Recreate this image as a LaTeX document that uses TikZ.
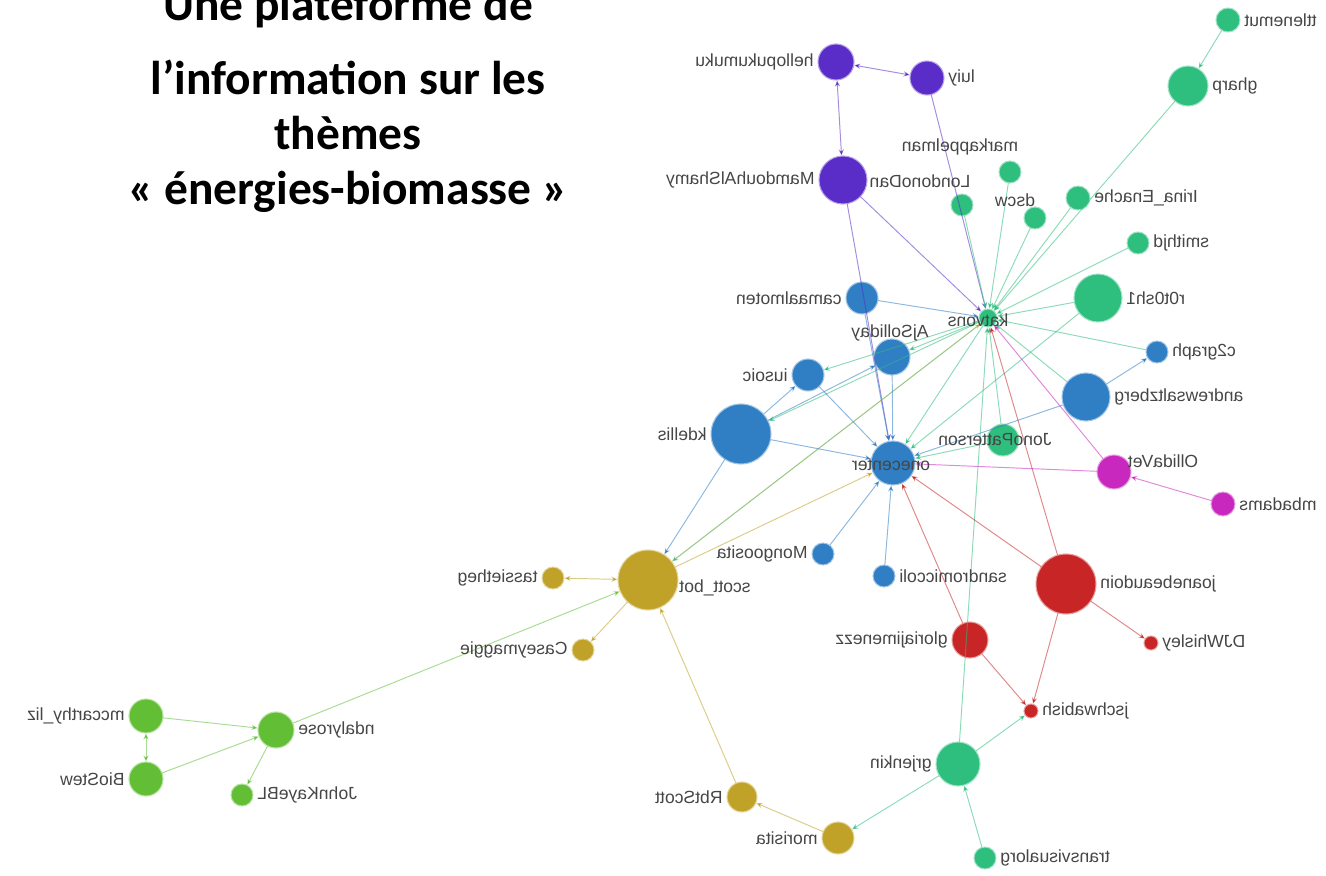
\documentclass[tikz,border=0pt]{standalone}
\usepackage{fontspec}
\setmainfont{Liberation Sans}
\newfontfamily\titlefont{Carlito}
\usetikzlibrary{arrows.meta}
\definecolor{pur}{RGB}{90,45,200}
\definecolor{grn}{RGB}{46,190,126}
\definecolor{blu}{RGB}{48,126,196}
\definecolor{mag}{RGB}{200,40,190}
\definecolor{rd}{RGB}{200,38,38}
\definecolor{oli}{RGB}{192,162,40}
\definecolor{lgr}{RGB}{98,190,52}
\definecolor{txt}{RGB}{70,70,70}
\newcommand{\mir}[1]{\reflectbox{#1}}
\begin{document}
\begin{tikzpicture}[x=0.2mm, y=-0.2mm, line join=round, line cap=round,
  >={Stealth[length=3.5pt,width=3pt]},
  nd/.style={circle, fill=#1, draw=#1!45, line width=0.6pt, inner sep=0pt},
  lbl/.style={font=\fontsize{10}{12}\selectfont, text=txt, inner sep=2pt},
  ed/.style={draw=#1, draw opacity=0.55, line width=0.55pt}]
 	\useasboundingbox (0,0) rectangle (1326,876);
 	% title
 	\node[font=\titlefont\bfseries\fontsize{27}{31.3}\selectfont, align=center, anchor=north] (title) at (348,-19)
 	{Une plateforme de\\[11pt] l’information sur les\\ thèmes\\ « énergies-biomasse »};
 	% purple group
 	\node[nd=pur, minimum size=7.2mm] (hel) at (836,62) {};
 	\node[nd=pur, minimum size=6.8mm] (lui) at (927,78) {};
 	\node[nd=pur, minimum size=9.6mm] (mam) at (843,180) {};
 	% green group
 	\node[nd=grn, minimum size=4.8mm] (ttl) at (1228,20) {};
 	\node[nd=grn, minimum size=8mm] (gha) at (1188,86) {};
 	\node[nd=grn, minimum size=4.4mm] (mar) at (1010,172) {};
 	\node[nd=grn, minimum size=4.4mm] (lon) at (962,205) {};
 	\node[nd=grn, minimum size=4.4mm] (dsc) at (1035,218) {};
 	\node[nd=grn, minimum size=4.8mm] (iri) at (1078,198) {};
 	\node[nd=grn, minimum size=4.4mm] (smi) at (1138,243) {};
 	\node[nd=grn, minimum size=9.6mm] (rot) at (1098,298) {};
 	\node[nd=grn, minimum size=3.6mm] (kat) at (988,318) {};
 	\node[nd=grn, minimum size=6.4mm] (jon) at (1003,440) {};
 	\node[nd=grn, minimum size=8.8mm] (gre) at (958,764) {};
 	\node[nd=grn, minimum size=4.4mm] (tra) at (985,858) {};
 	% blue group
 	\node[nd=blu, minimum size=6.4mm] (cam) at (862,298) {};
 	\node[nd=blu, minimum size=7.2mm] (ajs) at (892,357) {};
 	\node[nd=blu, minimum size=6.4mm] (ius) at (808,375) {};
 	\node[nd=blu, minimum size=12mm] (kde) at (741,434) {};
 	\node[nd=blu, minimum size=8.8mm] (one) at (893,463) {};
 	\node[nd=blu, minimum size=4.4mm] (c2g) at (1157,352) {};
 	\node[nd=blu, minimum size=9.6mm] (and) at (1086,397) {};
 	\node[nd=blu, minimum size=4.4mm] (mon) at (823,554) {};
 	\node[nd=blu, minimum size=4.4mm] (san) at (884,576) {};
 	% magenta group
 	\node[nd=mag, minimum size=6.8mm] (oll) at (1114,472) {};
 	\node[nd=mag, minimum size=4.8mm] (mba) at (1223,504) {};
 	% red group
 	\node[nd=rd, minimum size=12mm] (joa) at (1066,584) {};
 	\node[nd=rd, minimum size=2.8mm] (djw) at (1151,643) {};
 	\node[nd=rd, minimum size=7.2mm] (glo) at (970,640) {};
 	\node[nd=rd, minimum size=2.8mm] (jsc) at (1031,711) {};
 	% olive group
 	\node[nd=oli, minimum size=12mm] (sco) at (648,580) {};
 	\node[nd=oli, minimum size=4.4mm] (tas) at (553,578) {};
 	\node[nd=oli, minimum size=4.4mm] (cas) at (583,650) {};
 	\node[nd=oli, minimum size=6mm] (rbt) at (742,797) {};
 	\node[nd=oli, minimum size=6.4mm] (mor) at (838,838) {};
 	% light green group
 	\node[nd=lgr, minimum size=6.8mm] (mcc) at (146,716) {};
 	\node[nd=lgr, minimum size=6.8mm] (bio) at (146,779) {};
 	\node[nd=lgr, minimum size=7.2mm] (ndy) at (276,730) {};
 	\node[nd=lgr, minimum size=4.4mm] (jkb) at (242,795) {};
 	% edges
 	\draw[ed=pur,<->] (hel)--(lui);
 	\draw[ed=pur,<->] (hel)--(mam);
 	\draw[ed=pur,->] (lui)--(kat);
 	\draw[ed=pur,->] (mam)--(kat);
 	\draw[ed=pur,->] (mam)--(one);
 	\draw[ed=grn,->] (ttl)--(gha);
 	\foreach \s in {gha,mar,lon,dsc,iri,smi,rot,c2g,and,jon,gre}
 		\draw[ed=grn,->] (\s)--(kat);
 	\foreach \t in {one,ajs,ius,kde,sco}
 		\draw[ed=grn,->] (kat)--(\t);
 	\draw[ed=grn,->] (rot)--(one);
 	\draw[ed=grn,->] (jon)--(one);
 	\draw[ed=blu,->] (and)--(c2g);
 	\draw[ed=blu,->] (and)--(one);
 	\draw[ed=grn,->] (tra)--(gre);
 	\draw[ed=grn,->] (gre)--(jsc);
 	\draw[ed=grn,->] (gre)--(mor);
 	\draw[ed=rd,->] (joa)--(one);
 	\draw[ed=rd,->] (joa)--(kat);
 	\draw[ed=rd,->] (joa)--(djw);
 	\draw[ed=rd,->] (joa)--(jsc);
 	\draw[ed=rd,->] (glo)--(jsc);
 	\draw[ed=rd,->] (glo)--(one);
 	\draw[ed=mag,->] (mba)--(oll);
 	\draw[ed=mag,->] (oll)--(one);
 	\draw[ed=mag,->] (oll)--(kat);
 	\foreach \s in {cam,ajs,ius,kde,mon,san}
 		\draw[ed=blu,->] (\s)--(one);
 	\draw[ed=blu,->] (cam)--(kat);
 	\draw[ed=blu,->] (kde)--(ius);
 	\draw[ed=blu,->] (kde)--(ajs);
 	\draw[ed=blu,->] (kde)--(sco);
 	\draw[ed=oli,<->] (tas)--(sco);
 	\draw[ed=oli,->] (sco)--(cas);
 	\draw[ed=oli,->] (sco)--(one);
 	\draw[ed=oli,draw opacity=0.35,->] (sco)--(kat);
 	\draw[ed=oli,->] (rbt)--(sco);
 	\draw[ed=oli,->] (mor)--(rbt);
 	\draw[ed=lgr,->] (ndy)--(sco);
 	\draw[ed=lgr,->] (mcc)--(ndy);
 	\draw[ed=lgr,->] (bio)--(ndy);
 	\draw[ed=lgr,<->] (mcc)--(bio);
 	\draw[ed=lgr,->] (ndy)--(jkb);
 	% labels (mirrored as in the source)
 	\path
 	(hel.west) node[lbl, anchor=east] (l-hel) {\mir{hellopukumuku}}
 	(lui.east) node[lbl, anchor=west] (l-lui) {\mir{luiy}}
 	(mam.west) node[lbl, anchor=east] (l-mam) {\mir{MamdouhAlShamy}}
 	(ttl.east) node[lbl, anchor=west] (l-ttl) {\mir{ttlenemut}}
 	(gha.east) node[lbl, anchor=west] (l-gha) {\mir{gharp}}
 	(960,147) node[lbl] (l-mar) {\mir{markappelman}}
 	(920,181) node[lbl] (l-lon) {\mir{LondonoDan}}
 	(1015,200) node[lbl] (l-dsc) {\mir{dscw}}
 	(iri.east) node[lbl, anchor=west] (l-iri) {\mir{Irina\_Enache}}
 	(smi.east) node[lbl, anchor=west] (l-smi) {\mir{smithjd}}
 	(rot.east) node[lbl, anchor=west] (l-rot) {\mir{r0t0sh1}}
 	(978,320) node[lbl] (l-kat) {\mir{katvons}}
 	(995,440) node[lbl] (l-jon) {\mir{JonoPatterson}}
 	(gre.west) node[lbl, anchor=east] (l-gre) {\mir{grjenkin}}
 	(tra.east) node[lbl, anchor=west] (l-tra) {\mir{transvisualorg}}
 	(cam.west) node[lbl, anchor=east] (l-cam) {\mir{camaalmoten}}
 	(890,333) node[lbl] (l-ajs) {\mir{AjSolliday}}
 	(ius.west) node[lbl, anchor=east] (l-ius) {\mir{iusoic}}
 	(kde.west) node[lbl, anchor=east] (l-kde) {\mir{kdellis}}
 	(891,465) node[lbl] (l-one) {\mir{onecenter}}
 	(c2g.east) node[lbl, anchor=west] (l-c2g) {\mir{c2graph}}
 	(and.east) node[lbl, anchor=west] (l-and) {\mir{andrewsaltzberg}}
 	(mon.west) node[lbl, anchor=east] (l-mon) {\mir{Mongoosita}}
 	(san.east) node[lbl, anchor=west] (l-san) {\mir{sandromiccoli}}
 	(1163,461) node[lbl] (l-oll) {\mir{OllidaVet}}
 	(mba.east) node[lbl, anchor=west] (l-mba) {\mir{mbadams}}
 	(joa.east) node[lbl, anchor=west] (l-joa) {\mir{joanebeaudoin}}
 	(djw.east) node[lbl, anchor=west] (l-djw) {\mir{DJWhisley}}
 	(glo.west) node[lbl, anchor=east] (l-glo) {\mir{gloriajimenezz}}
 	(jsc.east) node[lbl, anchor=west] (l-jsc) {\mir{jschwabish}}
 	(715,588) node[lbl] (l-sco) {\mir{scott\_bot}}
 	(tas.west) node[lbl, anchor=east] (l-tas) {\mir{tassietheg}}
 	(cas.west) node[lbl, anchor=east] (l-cas) {\mir{Caseymaggie}}
 	(rbt.west) node[lbl, anchor=east] (l-rbt) {\mir{RbtScott}}
 	(mor.west) node[lbl, anchor=east] (l-mor) {\mir{morisita}}
 	(mcc.west) node[lbl, anchor=east] (l-mcc) {\mir{mccarthy\_liz}}
 	(bio.west) node[lbl, anchor=east] (l-bio) {\mir{BioStew}}
 	(ndy.east) node[lbl, anchor=west] (l-ndy) {\mir{ndalyrose}}
 	(jkb.east) node[lbl, anchor=west] (l-jkb) {\mir{JohnKayeBL}}
 	;
\end{tikzpicture}
\end{document}
